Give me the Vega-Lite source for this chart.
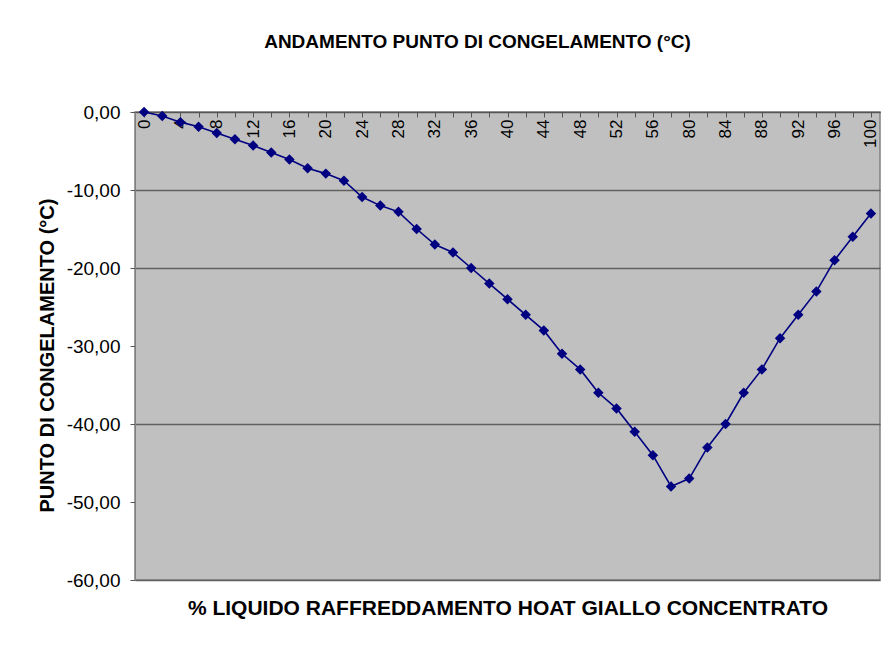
{
  "$schema": "https://vega.github.io/schema/vega-lite/v6.json",
  "width": 745,
  "height": 468,
  "autosize": "none",
  "padding": {"left": 135, "top": 112, "right": 14, "bottom": 69},
  "background": "white",
  "config": {
    "locale": {"number": {"decimal": ",", "thousands": ".", "grouping": [3], "currency": ["", " €"], "minus": "-"}},
    "font": "Liberation Sans",
    "view": {"fill": "#C0C0C0", "stroke": "#808080", "strokeWidth": 1.5}
  },
  "title": {
    "text": "ANDAMENTO PUNTO DI CONGELAMENTO (°C)",
    "fontSize": 19,
    "fontWeight": "bold",
    "font": "Liberation Sans",
    "anchor": "middle",
    "dx": -30,
    "offset": 51,
    "color": "black"
  },
  "data": {
    "values": [
      {"pct": 0, "temp": 0},
      {"pct": 2, "temp": -0.5},
      {"pct": 4, "temp": -1.3},
      {"pct": 6, "temp": -1.9},
      {"pct": 8, "temp": -2.7},
      {"pct": 10, "temp": -3.5},
      {"pct": 12, "temp": -4.3},
      {"pct": 14, "temp": -5.2},
      {"pct": 16, "temp": -6.1},
      {"pct": 18, "temp": -7.2},
      {"pct": 20, "temp": -7.9},
      {"pct": 22, "temp": -8.8},
      {"pct": 24, "temp": -10.9},
      {"pct": 26, "temp": -12},
      {"pct": 28, "temp": -12.8},
      {"pct": 30, "temp": -15},
      {"pct": 32, "temp": -17},
      {"pct": 34, "temp": -18},
      {"pct": 36, "temp": -20},
      {"pct": 38, "temp": -22},
      {"pct": 40, "temp": -24},
      {"pct": 42, "temp": -26},
      {"pct": 44, "temp": -28},
      {"pct": 46, "temp": -31},
      {"pct": 48, "temp": -33},
      {"pct": 50, "temp": -36},
      {"pct": 52, "temp": -38},
      {"pct": 54, "temp": -41},
      {"pct": 56, "temp": -44},
      {"pct": 60, "temp": -48},
      {"pct": 80, "temp": -47},
      {"pct": 82, "temp": -43},
      {"pct": 84, "temp": -40},
      {"pct": 86, "temp": -36},
      {"pct": 88, "temp": -33},
      {"pct": 90, "temp": -29},
      {"pct": 92, "temp": -26},
      {"pct": 94, "temp": -23},
      {"pct": 96, "temp": -19},
      {"pct": 98, "temp": -16},
      {"pct": 100, "temp": -13}
    ]
  },
  "encoding": {
    "x": {
      "field": "pct",
      "type": "ordinal",
      "scale": {"type": "point", "padding": 0.5},
      "axis": {
        "title": "% LIQUIDO RAFFREDDAMENTO HOAT GIALLO CONCENTRATO",
        "titleFontSize": 21,
        "titleFontWeight": "bold",
        "titleColor": "black",
        "titleY": 496,
        "titleBaseline": "middle",
        "orient": "bottom",
        "offset": -468,
        "labelAngle": 270,
        "labelFontSize": 17,
        "labelColor": "black",
        "labelExpr": "datum.value % 4 == 0 && datum.value != 60 ? datum.label : ''",
        "labelPadding": 2,
        "labelOverlap": false,
        "tickSize": 5,
        "tickColor": "#555555",
        "domainColor": "#555555",
        "grid": false
      }
    },
    "y": {
      "field": "temp",
      "type": "quantitative",
      "scale": {"domain": [-60, 0], "nice": false},
      "axis": {
        "title": "PUNTO DI CONGELAMENTO (°C)",
        "titleFontSize": 20,
        "titleFontWeight": "bold",
        "titleColor": "black",
        "titleX": -88,
        "titleY": 243,
        "titleAngle": 270,
        "titleAlign": "center",
        "titleBaseline": "middle",
        "values": [0, -10, -20, -30, -40, -50, -60],
        "format": ".2f",
        "labelFontSize": 19,
        "labelColor": "black",
        "labelPadding": 10,
        "tickSize": 5,
        "tickColor": "#555555",
        "domainColor": "#808080",
        "grid": true,
        "gridColor": {"condition": {"test": "datum.value == -30 || datum.value == -50", "value": "transparent"}, "value": "#606060"},
        "gridWidth": 1.5
      }
    }
  },
  "layer": [
    {"mark": {"type": "line", "color": "#000080", "strokeWidth": 1.6}},
    {"mark": {"type": "point", "shape": "diamond", "filled": true, "color": "#000080", "size": 110, "opacity": 1}}
  ]
}
